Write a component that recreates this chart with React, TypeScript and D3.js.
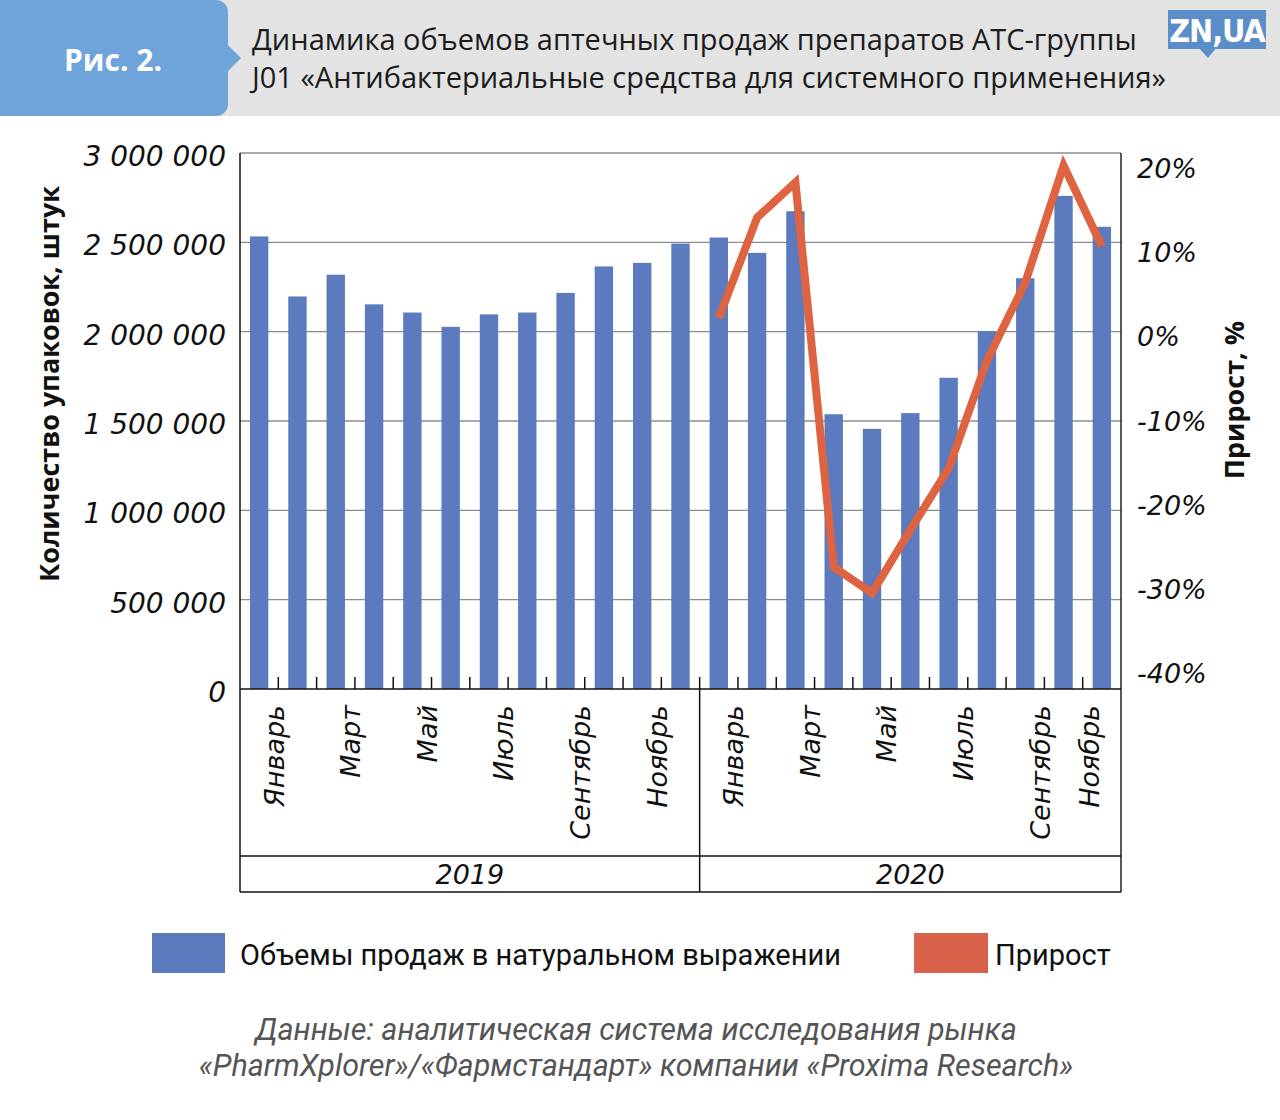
import React, { useEffect, useRef } from "react";
import * as d3 from "d3";

const months2019 = ["Январь","Февраль","Март","Апрель","Май","Июнь","Июль","Август","Сентябрь","Октябрь","Ноябрь","Декабрь"];
const months2020 = ["Январь","Февраль","Март","Апрель","Май","Июнь","Июль","Август","Сентябрь","Октябрь","Ноябрь"];
const sales2019 = [2533000, 2197000, 2319000, 2153000, 2107000, 2027000, 2097000, 2107000, 2217000, 2365000, 2385000, 2493000];
const sales2020 = [2527000, 2441000, 2674000, 1538000, 1456000, 1544000, 1742000, 2003000, 2299000, 2760000, 2587000];
const growth2020 = [2.2, 14.1, 18.3, -27.4, -30.5, -23.0, -15.7, -2.9, 6.4, 20.3, 10.7];
const leftTicks = [0, 500000, 1000000, 1500000, 2000000, 2500000, 3000000];
const rightTicks = [-40, -30, -20, -10, 0, 10, 20];
const labelledMonths = ["Январь", "Март", "Май", "Июль", "Сентябрь", "Ноябрь"];
const years = ["2019", "2020"];

const titleLines = [
  "Динамика объемов аптечных продаж препаратов АТС-группы",
  "J01 «Антибактериальные средства для системного применения»",
];
const sourceLines = [
  "Данные: аналитическая система исследования рынка",
  "«PharmXplorer»/«Фармстандарт» компании «Proxima Research»",
];

type Row = { key: string; year: string; month: string; sales: number; growth: number | null };
const rows: Row[] = [
  ...months2019.map((m, i) => ({ key: "2019-" + i, year: "2019", month: m, sales: sales2019[i], growth: null })),
  ...months2020.map((m, i) => ({ key: "2020-" + i, year: "2020", month: m, sales: sales2020[i], growth: growth2020[i] })),
];

const W = 1280, H = 1120;
const L = 240, R = 1121, T = 153, B = 689;
const yearTop = 856, yearBottom = 892;

const BLUE = "#5b7bbe";
const ORANGE = "#de6340";
const TICK_FONT = "'DejaVu Sans', sans-serif";

export default function App() {
  const ref = useRef<SVGSVGElement>(null);

  useEffect(() => {
    const svg = d3.select(ref.current);
    svg.selectAll("*").remove();

    // Header
    svg.append("rect").attr("x", 0).attr("y", 0).attr("width", W).attr("height", 116).attr("fill", "#e3e3e3");
    const hp = d3.path();
    hp.moveTo(0, 0); hp.lineTo(216, 0); hp.arcTo(228, 0, 228, 12, 12); hp.lineTo(228, 45);
    hp.lineTo(241, 58); hp.lineTo(228, 71); hp.lineTo(228, 104); hp.arcTo(228, 116, 216, 116, 12);
    hp.lineTo(0, 116); hp.closePath();
    svg.append("path").attr("d", hp.toString()).attr("fill", "#6fa4db");
    svg.append("text").attr("x", 113).attr("y", 71).attr("text-anchor", "middle")
      .attr("font-family", "'Open Sans', sans-serif").attr("font-weight", 700).attr("font-size", 30)
      .attr("fill", "#fff").text("Рис. 2.");
    svg.selectAll(".title").data(titleLines).join("text").attr("class", "title")
      .attr("x", 252).attr("y", (d, i) => 50 + i * 38)
      .attr("font-family", "'Open Sans', sans-serif").attr("font-size", 29).attr("fill", "#1c1c1c")
      .text(d => d);
    // Logo
    svg.append("rect").attr("x", 1168).attr("y", 10).attr("width", 98).attr("height", 39).attr("fill", "#5b8dc9");
    svg.append("path").attr("d", "M1199,48 L1216,48 L1208,58 Z").attr("fill", "#5b8dc9");
    svg.append("text").attr("x", 1217).attr("y", 42).attr("text-anchor", "middle")
      .attr("font-family", "'DejaVu Sans Condensed', 'DejaVu Sans', sans-serif").attr("font-weight", 700)
      .attr("font-size", 32).attr("letter-spacing", -1).attr("fill", "#fff")
      .text("ZN,UA");

    // Scales
    const x = d3.scaleBand<string>().domain(rows.map(r => r.key)).range([L, R]).paddingInner(0.52).paddingOuter(0.26);
    const y = d3.scaleLinear().domain([0, 3000000]).range([B, T]);
    const yR = d3.scaleLinear().domain([-40, 20]).range([673, 168]);
    const step = x.step();
    const bw = x.bandwidth();

    // Gridlines
    svg.append("g").selectAll("line").data(leftTicks.filter(v => v > 0)).join("line")
      .attr("x1", L).attr("x2", R).attr("y1", d => y(d)).attr("y2", d => y(d))
      .attr("stroke", "#8c8c8c").attr("stroke-width", 1.3);

    // Bars
    svg.append("g").selectAll("rect").data(rows).join("rect")
      .attr("x", d => x(d.key)!).attr("width", bw)
      .attr("y", d => y(d.sales)).attr("height", d => B - y(d.sales)).attr("fill", BLUE);

    // Frame
    svg.append("line").attr("x1", L).attr("x2", L).attr("y1", T).attr("y2", yearBottom).attr("stroke", "#111").attr("stroke-width", 1.5);
    svg.append("line").attr("x1", R).attr("x2", R).attr("y1", T).attr("y2", yearBottom).attr("stroke", "#222").attr("stroke-width", 1.5);
    svg.append("line").attr("x1", L).attr("x2", R).attr("y1", B).attr("y2", B).attr("stroke", "#111").attr("stroke-width", 1.5);
    svg.append("line").attr("x1", L).attr("x2", R).attr("y1", yearTop).attr("y2", yearTop).attr("stroke", "#111").attr("stroke-width", 1.3);
    svg.append("line").attr("x1", L).attr("x2", R).attr("y1", yearBottom).attr("y2", yearBottom).attr("stroke", "#111").attr("stroke-width", 1.3);

    // Category ticks
    const boundaries = rows.slice(1).map(r => x(r.key)! - (step - bw) / 2);
    svg.append("g").selectAll("line").data(rows.slice(1)).join("line")
      .attr("x1", (d, i) => boundaries[i]).attr("x2", (d, i) => boundaries[i])
      .attr("y1", B - 12).attr("y2", d => (d.key === "2020-0" ? yearBottom : B))
      .attr("stroke", "#111").attr("stroke-width", 1.5);

    // Month labels
    const lbl = rows.filter(r => labelledMonths.includes(r.month));
    svg.append("g").selectAll("text").data(lbl).join("text")
      .attr("transform", d => `translate(${Math.min(x(d.key)! + bw / 2 + 15, R - 31)},705) rotate(-90)`)
      .attr("dy", "0.35em").attr("text-anchor", "end")
      .attr("font-family", TICK_FONT).attr("font-style", "italic").attr("font-size", 27).attr("fill", "#111")
      .text(d => d.month);

    // Year labels
    svg.append("g").selectAll("text").data(years).join("text")
      .attr("x", yr => {
        const ks = rows.filter(r => r.year === yr);
        const a = x(ks[0].key)! - (step - bw) / 2;
        const b = x(ks[ks.length - 1].key)! + bw + (step - bw) / 2;
        return (a + b) / 2;
      })
      .attr("y", 884).attr("text-anchor", "middle")
      .attr("font-family", TICK_FONT).attr("font-style", "italic").attr("font-size", 27).attr("fill", "#111")
      .text(d => d);

    // Left ticks
    const fmt = (v: number) => d3.format(",")(v).replace(/,/g, " ");
    svg.append("g").selectAll("text").data(leftTicks).join("text")
      .attr("x", 226).attr("y", d => y(d) + 13).attr("text-anchor", "end")
      .attr("font-family", TICK_FONT).attr("font-style", "italic").attr("font-size", 28).attr("fill", "#111")
      .text(d => fmt(d));
    // Right ticks
    svg.append("g").selectAll("text").data(rightTicks).join("text")
      .attr("x", 1137).attr("y", d => yR(d) + 10).attr("text-anchor", "start")
      .attr("font-family", TICK_FONT).attr("font-style", "italic").attr("font-size", 27).attr("fill", "#111")
      .text(d => d + "%");

    // Axis titles
    svg.append("text").attr("transform", "translate(50,384) rotate(-90)").attr("dy", "0.35em").attr("text-anchor", "middle")
      .attr("font-family", "'Open Sans', sans-serif").attr("font-weight", 700).attr("font-size", 27).attr("fill", "#111")
      .text("Количество упаковок, штук");
    svg.append("text").attr("transform", "translate(1235,400) rotate(-90)").attr("dy", "0.35em").attr("text-anchor", "middle")
      .attr("font-family", "'Open Sans', sans-serif").attr("font-weight", 700).attr("font-size", 27).attr("fill", "#111")
      .text("Прирост, %");

    // Growth line
    const gRows = rows.filter(r => r.growth !== null);
    const line = d3.line<Row>().x(d => x(d.key)! + bw / 2).y(d => yR(d.growth as number));
    svg.append("path").datum(gRows).attr("d", line).attr("fill", "none").attr("stroke", ORANGE)
      .attr("stroke-width", 8).attr("stroke-linejoin", "miter").attr("stroke-miterlimit", 3);

    // Legend
    svg.append("rect").attr("x", 152).attr("y", 933).attr("width", 73).attr("height", 40).attr("fill", BLUE);
    svg.append("text").attr("x", 240).attr("y", 965).attr("font-family", "Roboto, sans-serif").attr("font-size", 29).attr("fill", "#111")
      .text("Объемы продаж в натуральном выражении");
    svg.append("rect").attr("x", 914).attr("y", 933).attr("width", 74).attr("height", 40).attr("fill", "#d9634a");
    svg.append("text").attr("x", 995).attr("y", 965).attr("font-family", "Roboto, sans-serif").attr("font-size", 29).attr("fill", "#111")
      .text("Прирост");

    // Source
    svg.selectAll(".src").data(sourceLines).join("text").attr("class", "src")
      .attr("x", 636).attr("y", (d, i) => 1040 + i * 36).attr("text-anchor", "middle")
      .attr("font-family", "Roboto, sans-serif").attr("font-style", "italic").attr("font-size", 30.5).attr("fill", "#555")
      .text(d => d);
  }, []);

  return (
    <svg ref={ref} width={W} height={H} viewBox={`0 0 ${W} ${H}`}
      style={{ position: "absolute", left: 0, top: 0, background: "#fff" }} />
  );
}
